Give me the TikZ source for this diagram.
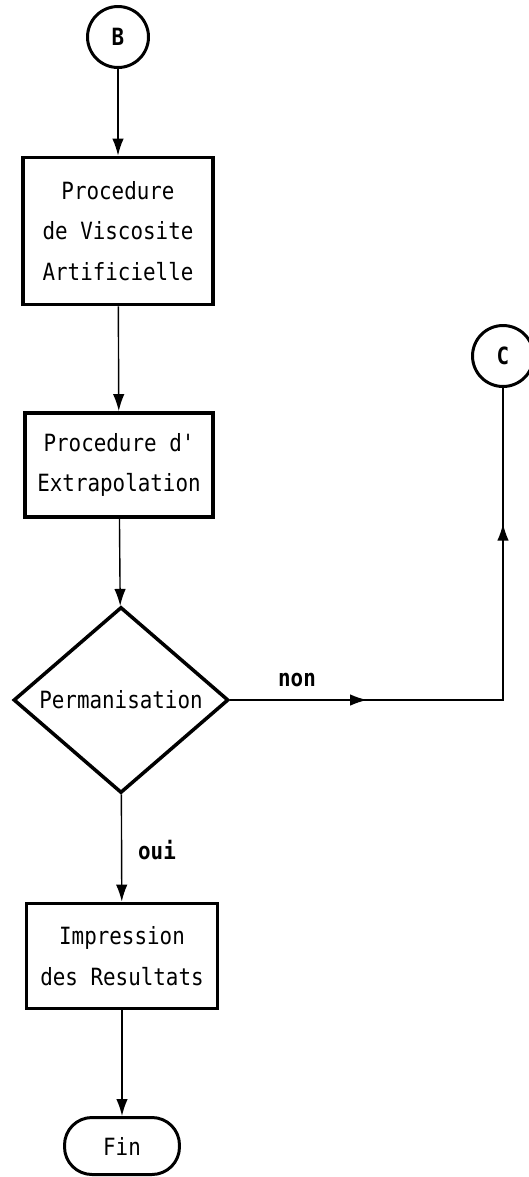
\documentclass[tikz,border=0pt]{standalone}
\usepackage{fontspec}
\usetikzlibrary{arrows.meta,shapes.geometric,decorations.markings}
\newfontfamily\plotfont[FakeStretch=0.88]{DejaVu Sans Mono}

\begin{document}
\begin{tikzpicture}[x=0.02cm, y=-0.02cm,
	>={Latex[length=3.4mm,width=2.3mm]},
	every node/.style={font=\fontsize{13.5}{23}\plotfont},
	conn/.style={line width=0.8pt, ->},
	bloc/.style={draw, line width=2.2pt, align=center, inner sep=0pt},
	rond/.style={draw, circle, line width=1.7pt, minimum size=1.22cm, inner sep=0pt},
	choix/.style={draw, diamond, line width=2pt, inner sep=0pt, minimum width=4.3cm, minimum height=3.72cm},
	etiq/.style={font=\fontsize{13.5}{16}\plotfont\bfseries},
	midarrows/.style={postaction={decorate}, decoration={markings,
		mark=at position 0.234 with {\arrow{>}},
		mark=at position 0.768 with {\arrow{>}}}}]
\useasboundingbox (0,0) rectangle (528,1177);
\node[rond] (B) at (118,37) {\bfseries B};
\node[bloc, minimum width=3.8cm, minimum height=2.94cm] (visc) at (118,231) {Procedure\\de Viscosite\\Artificielle};
\node[bloc, minimum width=3.76cm, minimum height=2.08cm] (extra) at (119,465) {Procedure d'\\Extrapolation};
\node[choix] (perm) at (121,700) {Permanisation};
\node[bloc, minimum width=3.82cm, minimum height=2.1cm] (impr) at (122,956) {Impression\\des Resultats};
\node[draw, rounded corners=0.55cm, line width=1.7pt, minimum width=2.3cm, minimum height=1.14cm] (fin) at (122,1146) {Fin};
\node[rond] (C) at (503,356) {\bfseries C};
\node[etiq] (non) at (297,680) {non};
\node[etiq] (oui) at (157,850) {oui};
% liaisons
\draw[conn] (B) -- (visc);
\draw[conn] (visc) -- (extra);
\draw[conn] (extra) -- (perm);
\draw[conn] (perm) -- (impr);
\draw[conn] (impr) -- (fin);
\draw[line width=0.8pt, midarrows] (perm.east) -- (perm.east -| C.south) -- (C.south);
\end{tikzpicture}
\end{document}
